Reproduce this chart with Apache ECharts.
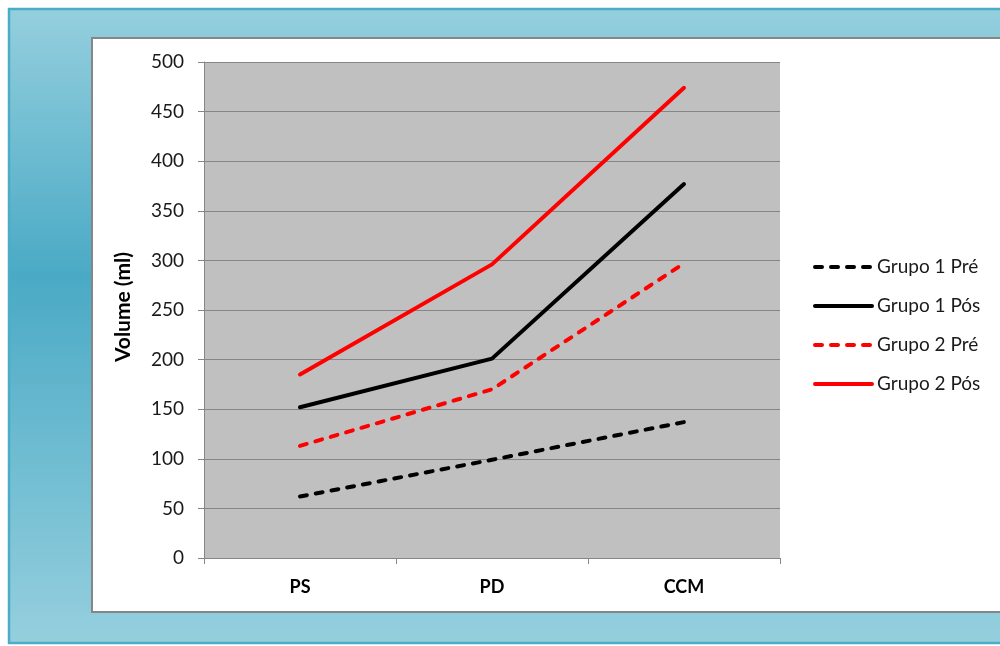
<!DOCTYPE html>
<html>
<head>
<meta charset="utf-8">
<style>
  html, body { margin: 0; padding: 0; background: #ffffff; }
  #chart { width: 1000px; height: 646px; }
</style>
<script src="https://cdn.jsdelivr.net/npm/echarts@6/dist/echarts.min.js"></script>
</head>
<body>
<div id="chart"></div>
<script>
// Measurement points on the category axis
const categories = ['PS', 'PD', 'CCM'];

// Volumes (ml) per group and moment
const grupo1Pre = [62, 99, 137];
const grupo1Pos = [152, 201, 377];
const grupo2Pre = [113, 170, 297];
const grupo2Pos = [185, 296, 474];

const seriesNames = ['Grupo 1 Pré', 'Grupo 1 Pós', 'Grupo 2 Pré', 'Grupo 2 Pós'];

const FONT = 'Lato';
const AXIS_GREY = '#868686';
const DASH = [7, 9];

function lineSeries(name, data, color, dashed) {
  return {
    name: name,
    type: 'line',
    data: data,
    symbol: 'none',
    smooth: false,
    lineStyle: {
      color: color,
      width: 4,
      type: dashed ? DASH : 'solid',
      cap: 'round',
      join: 'round'
    },
    itemStyle: { color: color },
    emphasis: { disabled: true }
  };
}

const chart = echarts.init(document.getElementById('chart'), null, { renderer: 'canvas' });

chart.setOption({
  animation: false,
  textStyle: { fontFamily: FONT },
  graphic: {
    elements: [
      {
        type: 'rect',
        z: -20,
        shape: { x: 9, y: 9, width: 1010, height: 634 },
        style: {
          fill: new echarts.graphic.LinearGradient(0, 0, 0, 1, [
            { offset: 0, color: '#95CFDE' },
            { offset: 0.42, color: '#4AAAC5' },
            { offset: 1, color: '#95CFDE' }
          ]),
          stroke: '#4BACC6',
          lineWidth: 2.5
        },
        silent: true
      },
      {
        type: 'rect',
        z: -10,
        shape: { x: 92, y: 38, width: 930, height: 574 },
        style: { fill: '#ffffff', stroke: AXIS_GREY, lineWidth: 2 },
        silent: true
      }
    ]
  },
  grid: {
    left: 204,
    right: 220,
    top: 62,
    bottom: 88,
    show: true,
    backgroundColor: '#C0C0C0',
    borderWidth: 0,
    containLabel: false
  },
  legend: {
    orient: 'vertical',
    left: 813,
    top: 257,
    padding: 0,
    itemWidth: 57,
    itemHeight: 14,
    itemGap: 19,
    data: seriesNames,
    itemStyle: { opacity: 0 },
    lineStyle: { width: 4, cap: 'round' },
    textStyle: { fontFamily: FONT, fontSize: 19, color: '#1a1a1a', lineHeight: 20 },
    selectedMode: false
  },
  xAxis: {
    type: 'category',
    data: categories,
    boundaryGap: true,
    axisLine: { show: true, lineStyle: { color: AXIS_GREY, width: 1 } },
    axisTick: { show: true, length: 6, lineStyle: { color: AXIS_GREY } },
    axisLabel: { margin: 20, fontFamily: FONT, fontSize: 18, fontWeight: 'bold', color: '#000' },
    splitLine: { show: false }
  },
  yAxis: {
    type: 'value',
    min: 0,
    max: 500,
    interval: 50,
    name: 'Volume (ml)',
    nameLocation: 'middle',
    nameRotate: 90,
    nameGap: 70,
    nameTextStyle: { fontFamily: FONT, fontSize: 21, fontWeight: 'bold', color: '#000', padding: [0, 0, 0, 6] },
    axisLine: { show: true, lineStyle: { color: AXIS_GREY, width: 1 } },
    axisTick: { show: true, length: 6, lineStyle: { color: AXIS_GREY } },
    axisLabel: { margin: 20, fontFamily: FONT, fontSize: 19, color: '#1a1a1a' },
    splitLine: { show: true, lineStyle: { color: AXIS_GREY, width: 1 } }
  },
  series: [
    lineSeries(seriesNames[0], grupo1Pre, '#000000', true),
    lineSeries(seriesNames[1], grupo1Pos, '#000000', false),
    lineSeries(seriesNames[2], grupo2Pre, '#FF0000', true),
    lineSeries(seriesNames[3], grupo2Pos, '#FF0000', false)
  ]
});
</script>
</body>
</html>
